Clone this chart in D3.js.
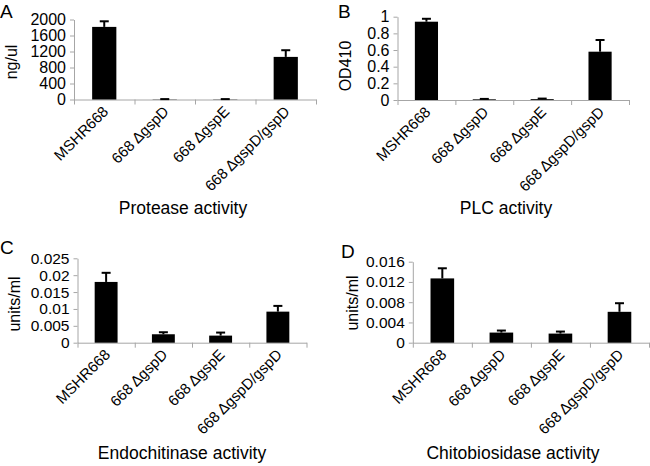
<!DOCTYPE html>
<html><head><meta charset="utf-8">
<script src="https://cdn.jsdelivr.net/npm/d3@7/dist/d3.min.js"></script>
<style>
body{margin:0;background:#fff;}
svg{display:block;font-family:"Liberation Sans",Arial,sans-serif;}
</style></head>
<body><svg id="c" width="650" height="466"></svg>
<script>
const categories = ["MSHR668", "668 \u0394gspD", "668 \u0394gspE", "668 \u0394gspD/gspD"];

const proteaseMean = [1815, 6, 6, 1065];
const proteaseErr  = [140, 4, 4, 167];
const proteaseTicks = [0, 400, 800, 1200, 1600, 2000];

const plcMean = [0.94, 0.008, 0.01, 0.58];
const plcErr  = [0.035, 0.005, 0.007, 0.14];
const plcTicks = [0, 0.2, 0.4, 0.6, 0.8, 1];

const endoMean = [0.018, 0.0025, 0.0021, 0.0092];
const endoErr  = [0.0027, 0.0006, 0.0009, 0.0017];
const endoTicks = [0, 0.005, 0.01, 0.015, 0.02, 0.025];

const chitoMean = [0.0127, 0.002, 0.0018, 0.0061];
const chitoErr  = [0.002, 0.0004, 0.0004, 0.0017];
const chitoTicks = [0, 0.004, 0.008, 0.012, 0.016];

const panels = [
  {letter:"A", lx:0, ly:17.5, x0:74, x1:316, yb:99.5, yt:19.5, mean:proteaseMean, err:proteaseErr, ticks:proteaseTicks, tf:16,
   ylab:"ng/ul", ylx:17, yly:62, title:"Protease activity", tx:183, ty:214},
  {letter:"B", lx:338, ly:17.5, x0:397.5, x1:629, yb:100, yt:16.7, mean:plcMean, err:plcErr, ticks:plcTicks, tf:16,
   ylab:"OD410", ylx:351, yly:66, title:"PLC activity", tx:506, ty:214},
  {letter:"C", lx:0, ly:254, x0:77.5, x1:306.5, yb:342.7, yt:258.3, mean:endoMean, err:endoErr, ticks:endoTicks, tf:15.5,
   ylab:"units/ml", ylx:20, yly:304, title:"Endochitinase activity", tx:182, ty:459},
  {letter:"D", lx:341, ly:258, x0:412.8, x1:649, yb:342.7, yt:261.7, mean:chitoMean, err:chitoErr, ticks:chitoTicks, tf:15.5,
   ylab:"units/ml", ylx:358, yly:303, title:"Chitobiosidase activity", tx:513, ty:459}
];

const svg = d3.select("#c");
const axisColor = "#a6a6a6";

panels.forEach(p => {
  const g = svg.append("g");
  const x = d3.scaleBand().domain(categories).range([p.x0, p.x1]).paddingInner(0).paddingOuter(0);
  const xb = d3.scaleLinear().domain([0, categories.length]).range([p.x0, p.x1]);
  const ymax = p.ticks[p.ticks.length - 1];
  const y = d3.scaleLinear().domain([0, ymax]).range([p.yb, p.yt]);

  // y axis
  const ya = g.append("g").attr("transform", `translate(${p.x0},0)`)
    .call(d3.axisLeft(y).tickValues(p.ticks).tickSize(4).tickSizeOuter(0).tickPadding(4).tickFormat(d => String(d)));
  ya.select(".domain").attr("stroke", axisColor);
  ya.selectAll(".tick line").attr("stroke", axisColor);
  ya.selectAll("text").attr("font-size", p.tf).attr("fill", "#000").attr("font-family", "Liberation Sans, Arial, sans-serif");

  // x axis with ticks at band boundaries
  const xa = g.append("g").attr("transform", `translate(0,${p.yb})`)
    .call(d3.axisBottom(xb).tickValues(d3.range(categories.length + 1)).tickSize(5).tickSizeOuter(0).tickFormat(""));
  xa.select(".domain").attr("stroke", axisColor);
  xa.selectAll(".tick line").attr("stroke", axisColor);

  // category labels
  g.selectAll(".cat").data(categories).enter().append("text")
    .attr("transform", d => `translate(${x(d) + x.bandwidth() / 2 + 5},${p.yb + 13}) rotate(-45)`)
    .attr("text-anchor", "end")
    .attr("font-size", 15)
    .attr("fill", "#000")
    .text(d => d);

  // bars
  const bw = x.bandwidth() * 0.4;
  g.selectAll(".bar").data(categories).enter().append("rect")
    .attr("x", (d) => x(d) + x.bandwidth() / 2 - bw / 2)
    .attr("width", bw)
    .attr("y", (d, i) => y(p.mean[i]))
    .attr("height", (d, i) => p.yb - y(p.mean[i]))
    .attr("fill", "#000");

  // error bars (plus only)
  categories.forEach((d, i) => {
    const cx = x(d) + x.bandwidth() / 2;
    const top = y(p.mean[i] + p.err[i]);
    g.append("line").attr("x1", cx).attr("x2", cx).attr("y1", y(p.mean[i])).attr("y2", top)
      .attr("stroke", "#000").attr("stroke-width", 2);
    g.append("line").attr("x1", cx - 4.5).attr("x2", cx + 4.5).attr("y1", top).attr("y2", top)
      .attr("stroke", "#000").attr("stroke-width", 2);
  });

  // y label
  g.append("text").attr("transform", `translate(${p.ylx},${p.yly}) rotate(-90)`)
    .attr("text-anchor", "middle").attr("font-size", 16).attr("fill", "#000").text(p.ylab);

  // title
  g.append("text").attr("x", p.tx).attr("y", p.ty).attr("text-anchor", "middle")
    .attr("font-size", 17.5).attr("fill", "#000").text(p.title);

  // panel letter
  g.append("text").attr("x", p.lx).attr("y", p.ly).attr("font-size", 19).attr("fill", "#000").text(p.letter);
});
</script>
</body></html>
